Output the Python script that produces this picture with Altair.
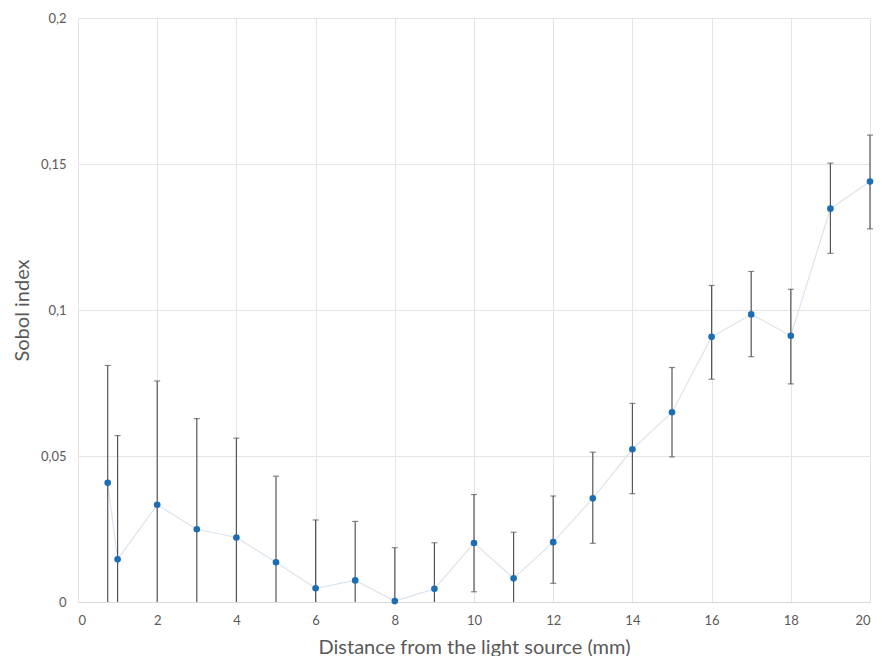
import altair as alt
import pandas as pd

x_vals = [0.75, 1, 2, 3, 4, 5, 6, 7, 8, 9, 10, 11, 12, 13, 14, 15, 16, 17, 18, 19, 20]
y_vals = [0.0408, 0.0146, 0.0333, 0.0249, 0.0221, 0.0136, 0.0047, 0.0074, 0.0003, 0.0045,
          0.0202, 0.0081, 0.0205, 0.0355, 0.0523, 0.0650, 0.0908, 0.0985, 0.0912, 0.1347, 0.1440]
y_hi = [0.0810, 0.0570, 0.0757, 0.0628, 0.0561, 0.0431, 0.0281, 0.0276, 0.0186, 0.0203,
        0.0368, 0.0239, 0.0363, 0.0513, 0.0680, 0.0803, 0.1084, 0.1132, 0.1071, 0.1503, 0.1599]
y_lo = [0.0, 0.0, 0.0, 0.0, 0.0, 0.0, 0.0, 0.0, 0.0, 0.0,
        0.0035, 0.0, 0.0064, 0.0201, 0.0371, 0.0497, 0.0763, 0.0840, 0.0747, 0.1194, 0.1278]
lo_cap = [False] * 10 + [True, False] + [True] * 9

df = pd.DataFrame({"x": x_vals, "y": y_vals, "hi": y_hi, "lo": y_lo, "locap": lo_cap})

FONT = "Lato"
GRAY = "#595959"

xscale = alt.Scale(domain=[0, 20], nice=False, zero=False)
yscale = alt.Scale(domain=[0, 0.2], nice=False)

base = alt.Chart(df)

xenc = alt.X("x:Q", scale=xscale,
             axis=alt.Axis(title="Distance from the light source (mm)", values=list(range(0, 21, 2)),
                           grid=True, gridColor="#e4e4e4", domain=True, domainColor="#d9d9d9",
                           ticks=False, labelPadding=12, labelFontSize=13, labelColor=GRAY,
                           labelFont=FONT, titleFont=FONT, titleFontSize=20, titleColor=GRAY,
                           titleFontWeight="normal", titlePadding=10))
yenc = alt.Y("y:Q", scale=yscale,
             axis=alt.Axis(title="Sobol index", values=[0, 0.05, 0.1, 0.15, 0.2],
                           labelExpr="replace(toString(datum.value), '.', ',')",
                           grid=True, gridColor="#e4e4e4", domain=False, ticks=False,
                           labelPadding=12, labelFontSize=13, labelColor=GRAY, labelFont=FONT,
                           titleFont=FONT, titleFontSize=20, titleColor=GRAY,
                           titleFontWeight="normal", titlePadding=8))

line = base.mark_line(color="#dbe4ee", strokeWidth=1.2).encode(x=xenc, y=yenc)

rules = base.mark_rule(color="#555555", strokeWidth=1.2).encode(
    x="x:Q", y="lo:Q", y2="hi:Q")

cap_hi = base.mark_tick(color="#555555", orient="horizontal", size=6, thickness=1.2).encode(
    x="x:Q", y="hi:Q")
cap_lo = base.transform_filter("datum.locap").mark_tick(
    color="#555555", orient="horizontal", size=6, thickness=1.2).encode(x="x:Q", y="lo:Q")

points = base.mark_circle(color="#1c6db3", opacity=1, size=44).encode(x="x:Q", y="y:Q")

chart = alt.layer(line, rules, cap_hi, cap_lo, points).properties(
    width=792, height=584,
    autosize=alt.AutoSizeParams(type="none"),
    padding={"left": 70, "top": 10, "right": 4, "bottom": 54},
).configure_view(stroke=None)

chart.save("out.html", embed_options={"renderer": "svg", "actions": False})
